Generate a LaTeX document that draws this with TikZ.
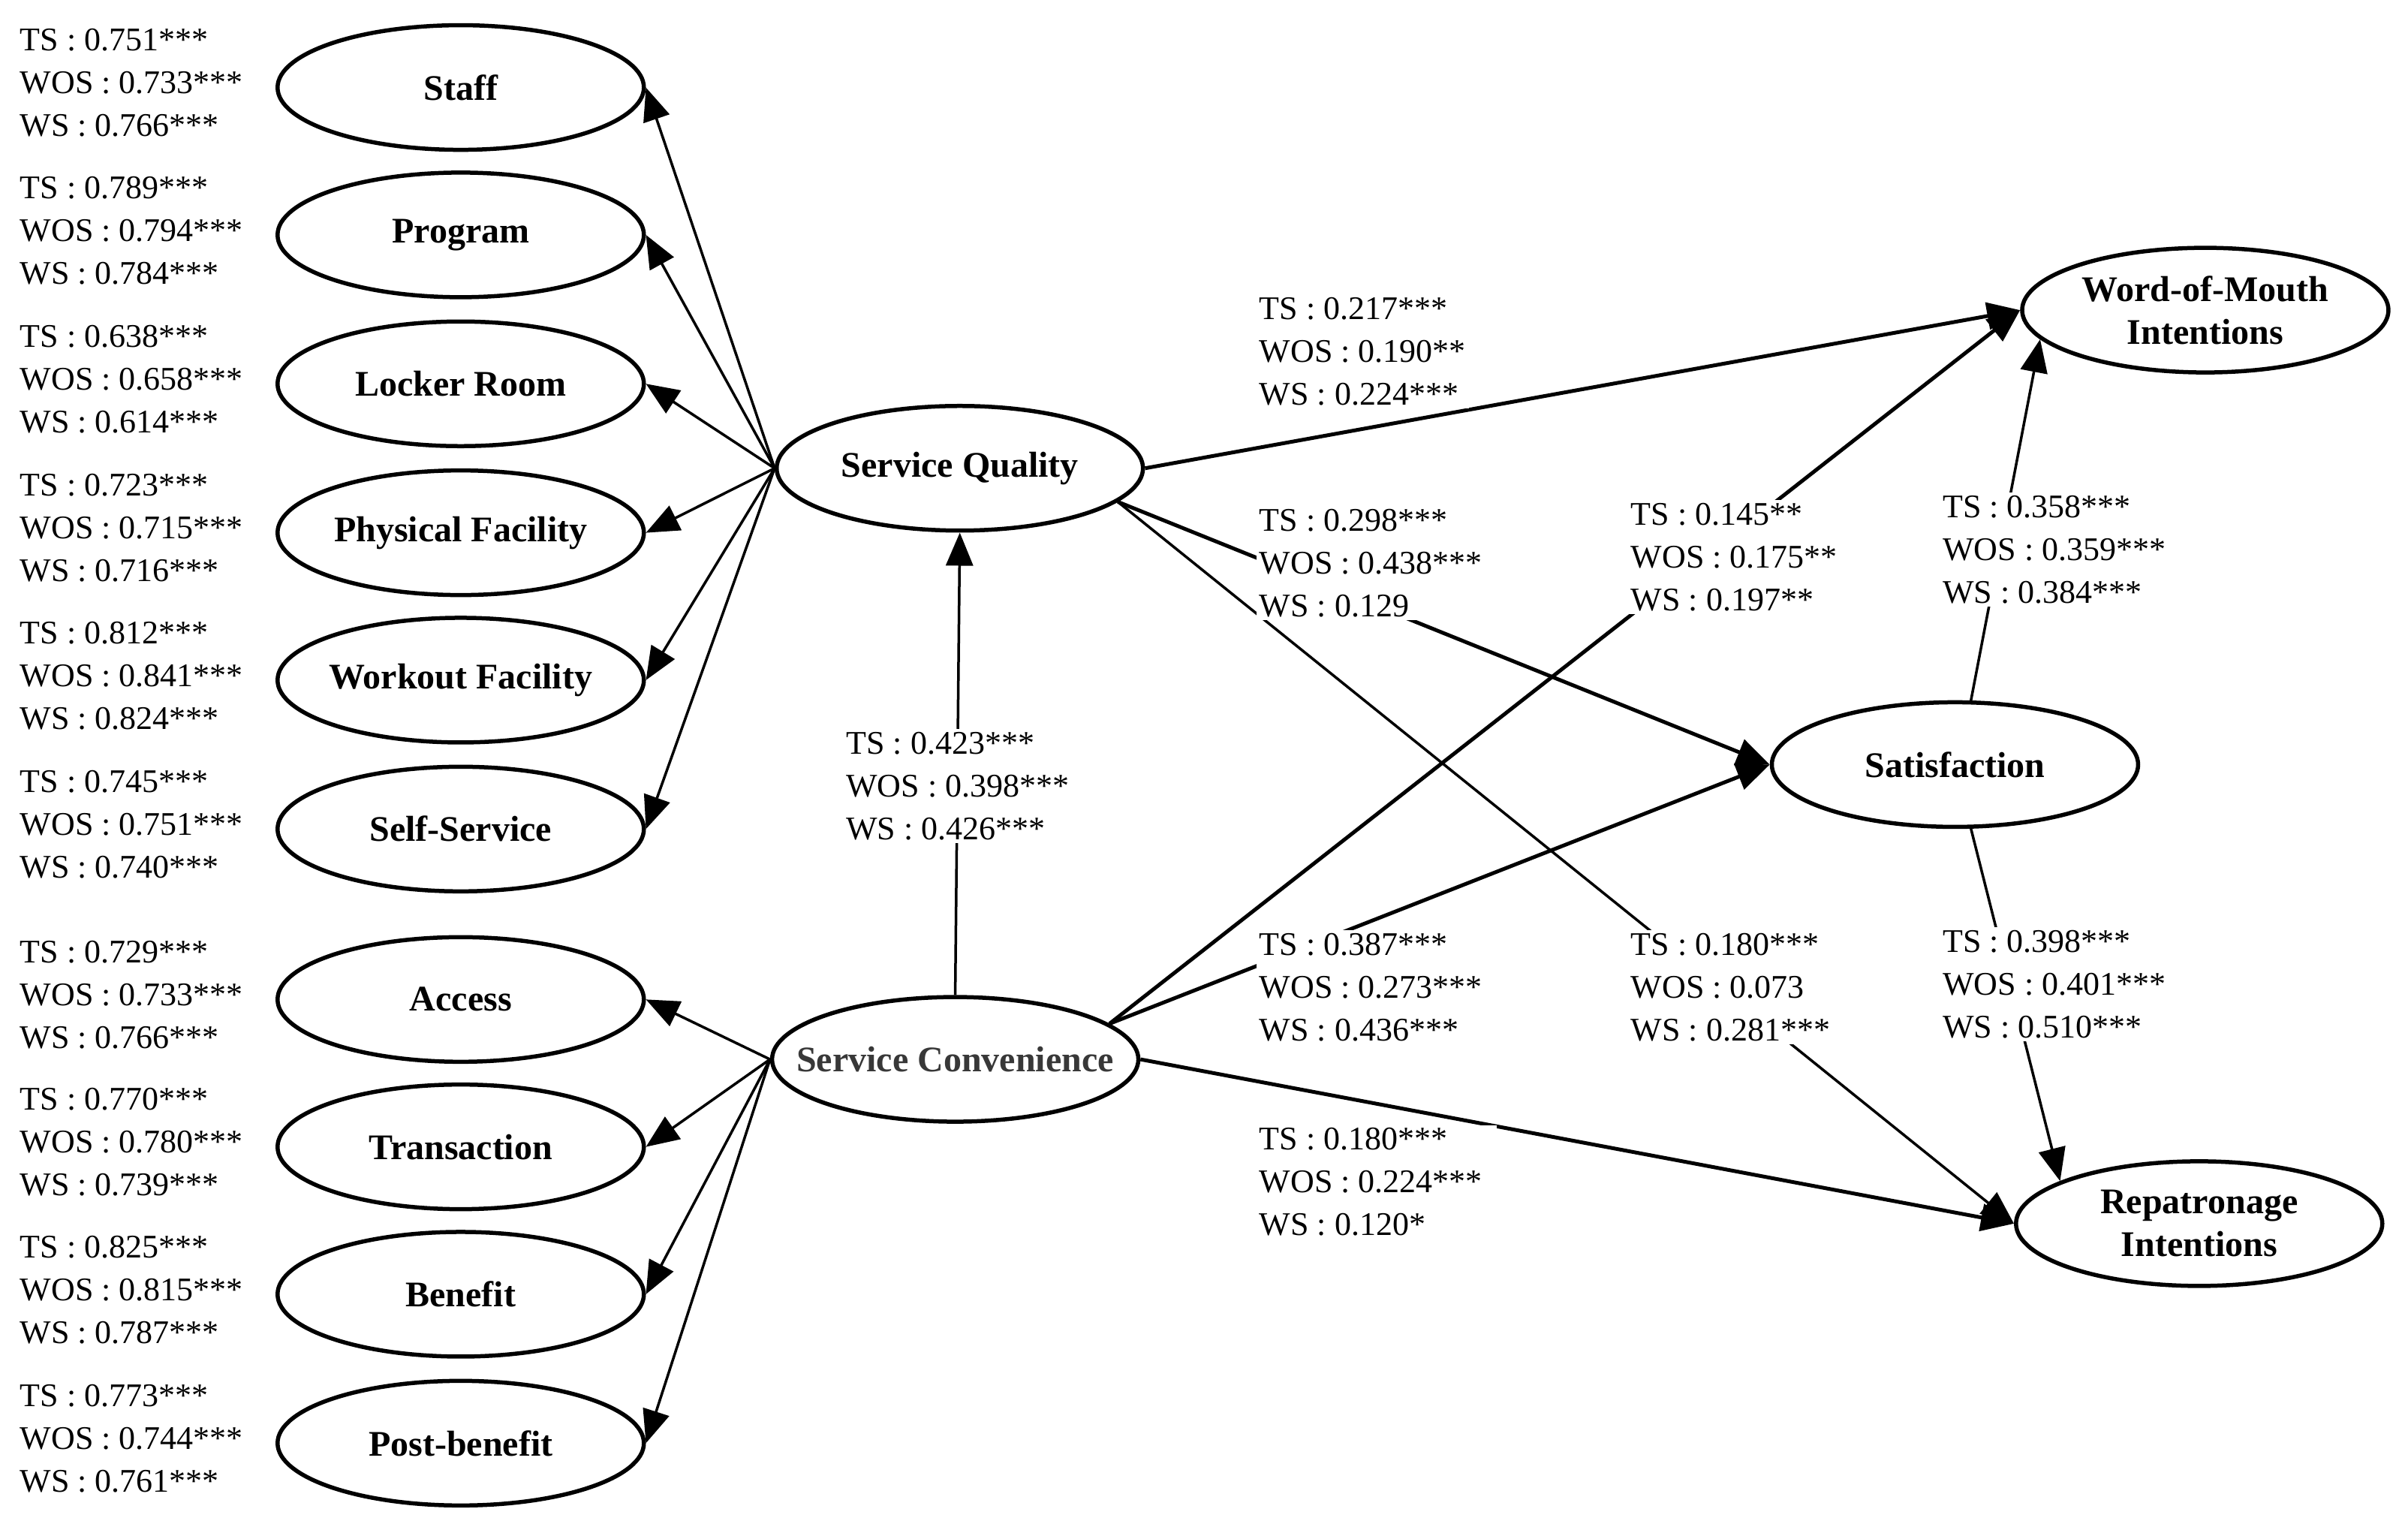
\documentclass[tikz,border=0pt]{standalone}
\usepackage{fontspec}
\setmainfont{Liberation Serif}
\usetikzlibrary{arrows.meta,shapes.geometric}
\tikzset{
  lat/.style={ellipse, draw, line width=5.5pt, minimum width=488pt, minimum height=166pt, inner sep=0pt,
    align=center, font=\bfseries\fontsize{48pt}{57pt}\selectfont},
  coef/.style={anchor=west, align=left, fill=white, inner sep=4pt, font=\fontsize{44pt}{57pt}\selectfont},
  arr/.style={line width=3.5pt, -{Triangle[length=44pt,width=36pt]}},
  arrb/.style={line width=5pt, -{Triangle[length=44pt,width=36pt]}}
}
\newcommand{\zb}[1]{\makebox[0pt][c]{#1}}
\begin{document}
\begin{tikzpicture}[x=2.0459pt,y=-2.045pt]
\useasboundingbox[fill=white] (0,0) rectangle (1568,1000);
% measurement ellipses
\node[lat] (staff)   at (300,57)  {\zb{Staff}};
\node[lat] (program) at (300,153) {\zb{Program}};
\node[lat] (locker)  at (300,250) {\zb{Locker Room}};
\node[lat] (phys)    at (300,347) {\zb{Physical Facility}};
\node[lat] (workout) at (300,443) {\zb{Workout Facility}};
\node[lat] (self)    at (300,540) {\zb{Self-Service}};
\node[lat] (access)  at (300,651) {\zb{Access}};
\node[lat] (trans)   at (300,747) {\zb{Transaction}};
\node[lat] (benefit) at (300,843) {\zb{Benefit}};
\node[lat] (post)    at (300,940) {\zb{Post-benefit}};
% constructs
\node[lat] (sq)  at (625,305) {\zb{Service Quality}};
\node[lat, text=black!78] (sc)  at (622,690) {\zb{Service Convenience}};
\node[lat] (sat) at (1273,498) {\zb{Satisfaction}};
\node[lat] (wom) at (1436,202) {\zb{Word-of-Mouth}\\\zb{Intentions}};
\node[lat] (rep) at (1432,797) {\zb{Repatronage}\\\zb{Intentions}};
% connectors
\foreach \t in {staff,program,locker,phys,workout,self}
  \draw[arr] (sq.west) -- (\t.east);
\foreach \t in {access,trans,benefit,post}
  \draw[arr] (sc.west) -- (\t.east);
\draw[arr] (sc.north) -- (sq.south);
\draw[arrb] (sq.east) -- (wom.west);
\draw[arrb] (sq.-12) -- (sat.west);
\draw[arr] (sq.-12) -- (rep.west);
\draw[arrb] (sc.13) -- (wom.west);
\draw[arrb] (sc.13) -- (sat.west);
\draw[arrb] (sc.east) -- (rep.west);
\draw[arr] (sat.76) -- (wom.190);
\draw[arr] (sat.-76) -- (rep.163);
% coefficient labels
\node[coef] (l1)  at (11,54)  {TS : 0.751***\\WOS : 0.733***\\WS : 0.766***};
\node[coef] (l2)  at (11,150) {TS : 0.789***\\WOS : 0.794***\\WS : 0.784***};
\node[coef] (l3)  at (11,247) {TS : 0.638***\\WOS : 0.658***\\WS : 0.614***};
\node[coef] (l4)  at (11,344) {TS : 0.723***\\WOS : 0.715***\\WS : 0.716***};
\node[coef] (l5)  at (11,440) {TS : 0.812***\\WOS : 0.841***\\WS : 0.824***};
\node[coef] (l6)  at (11,537) {TS : 0.745***\\WOS : 0.751***\\WS : 0.740***};
\node[coef] (l7)  at (11,648) {TS : 0.729***\\WOS : 0.733***\\WS : 0.766***};
\node[coef] (l8)  at (11,744) {TS : 0.770***\\WOS : 0.780***\\WS : 0.739***};
\node[coef] (l9)  at (11,840) {TS : 0.825***\\WOS : 0.815***\\WS : 0.787***};
\node[coef] (l10) at (11,937) {TS : 0.773***\\WOS : 0.744***\\WS : 0.761***};
\node[coef] (p1) at (549,512) {TS : 0.423***\\WOS : 0.398***\\WS : 0.426***};
\node[coef] (p2) at (818,229) {TS : 0.217***\\WOS : 0.190**\\WS : 0.224***};
\node[coef] (p3) at (818,367) {TS : 0.298***\\WOS : 0.438***\\WS : 0.129};
\node[coef] (p4) at (1060,363) {TS : 0.145**\\WOS : 0.175**\\WS : 0.197**};
\node[coef] (p5) at (1263,358) {TS : 0.358***\\WOS : 0.359***\\WS : 0.384***};
\node[coef] (p6) at (818,643) {TS : 0.387***\\WOS : 0.273***\\WS : 0.436***};
\node[coef] (p7) at (1060,643) {TS : 0.180***\\WOS : 0.073\\WS : 0.281***};
\node[coef] (p8) at (1263,641) {TS : 0.398***\\WOS : 0.401***\\WS : 0.510***};
\node[coef] (p9) at (818,770) {\makebox[312pt][l]{TS : 0.180***}\\WOS : 0.224***\\WS : 0.120*};
\end{tikzpicture}
\end{document}
